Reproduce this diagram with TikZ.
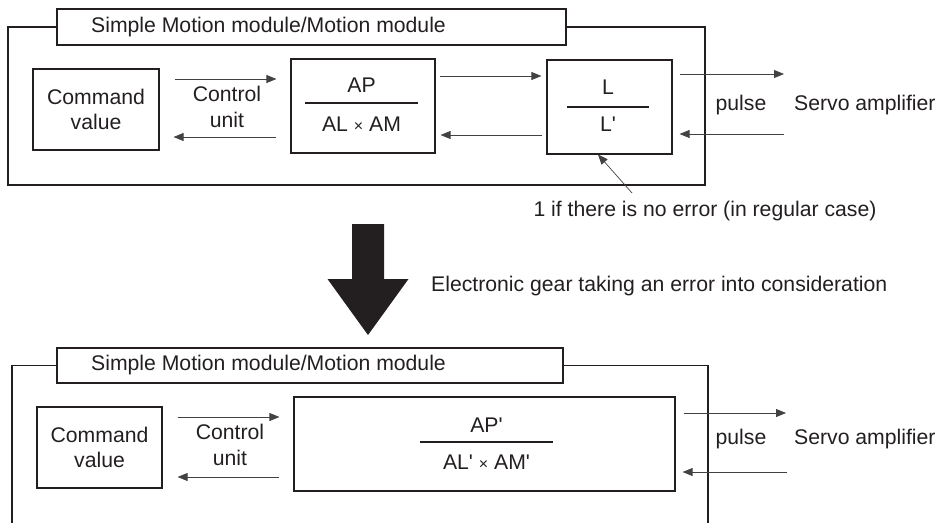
\documentclass[tikz,border=0pt]{standalone}
\usepackage{fontspec}
\newfontfamily\lsans{Liberation Sans}
\usetikzlibrary{arrows.meta,calc}
\definecolor{ink}{HTML}{231F20}
\newcommand{\smtimes}{{\fontsize{16}{16}\selectfont ×}}
\begin{document}
\begin{tikzpicture}[x=1pt,y=-1pt,
  every node/.style={text=ink,font=\lsans\fontsize{21.2}{25.5}\selectfont},
  frame/.style={draw=ink,line width=1.2pt},
  boxnode/.style={draw=ink,line width=1.2pt,inner sep=0pt},
  lbl/.style={align=center,inner sep=0pt},
  arr/.style={draw=ink!85,line width=0.8pt,-{Triangle[length=10pt,width=8pt]}},
  frac/.style={draw=ink,line width=1.6pt}]
\useasboundingbox (0,0) rectangle (939,522);

% ---------------- top section ----------------
\node[boxnode,minimum width=509pt,minimum height=36pt] (t1) at (311.5,27) {};
\node[lbl] (t1txt) at (268.5,27) {Simple Motion module/Motion module};
\draw[frame] (t1.west) -- (8,27) -- (8,185) -- (705,185) -- (705,27) -- (t1.east);

\node[boxnode,minimum width=126pt,minimum height=81pt,align=center] (cmd1) at (96,109.5) {Command\\value};
\node[lbl] (cu1) at (227,107) {Control\\unit};
\node[boxnode,minimum width=144pt,minimum height=94pt] (ap1) at (363,106) {};
\node[lbl] (ap1n) at (361.5,85) {AP};
\node[lbl] (ap1d) at (361.5,124) {AL \smtimes{} AM};
\draw[frac] (305,103) -- (418,103);
\node[boxnode,minimum width=125pt,minimum height=94pt] (l1) at (609.5,107) {};
\node[lbl] (l1n) at (608,87) {L};
\node[lbl] (l1d) at (608,124) {L'};
\draw[frac] (567,107) -- (649,107);

\node[lbl] (p1) at (741,105) {pulse};
\node[lbl,anchor=west] (sv1) at (794,105) {Servo amplifier};

\coordinate (y1a) at (0,79);
\coordinate (y1b) at (0,137);
\draw[arr,shorten <=15pt,shorten >=14pt] (cmd1.east |- y1a) -- (ap1.west |- y1a);
\draw[arr,shorten <=14pt,shorten >=14pt] (ap1.west |- y1b) -- (cmd1.east |- y1b);
\coordinate (y1c) at (0,76);
\coordinate (y1d) at (0,135);
\draw[arr,shorten <=4pt,shorten >=5pt] (ap1.east |- y1c) -- (l1.west |- y1c);
\draw[arr,shorten <=4pt,shorten >=5pt] (l1.west |- y1d) -- (ap1.east |- y1d);
\coordinate (o1a) at (784,74);
\coordinate (o1b) at (784,134);
\draw[arr,shorten <=7pt] (l1.east |- o1a) -- (o1a);
\draw[arr,shorten >=7pt] (o1b) -- (l1.east |- o1b);

\node[lbl] (note) at (705,211) {1 if there is no error (in regular case)};
\coordinate (noteStart) at (632,193);
\coordinate (noteEnd) at (598,154.5);
\draw[arr,line width=0.7pt] (noteStart) -- (noteEnd);

% ---------------- big arrow ----------------
\fill[ink] (352,224) -- (384,224) -- (384,279) -- (408.5,279) -- (368,335)
  -- (327.5,279) -- (352,279) -- cycle;
\node[lbl,anchor=west] (eg) at (431,286) {Electronic gear taking an error into consideration};

% ---------------- bottom section ----------------
\node[boxnode,minimum width=506pt,minimum height=35pt] (t2) at (310,365.5) {};
\node[lbl] (t2txt) at (268.5,365.5) {Simple Motion module/Motion module};
\draw[frame] (t2.west) -- (12,365.5) -- (12,523);
\draw[frame] (t2.east) -- (708,365.5) -- (708,523);

\node[boxnode,minimum width=125pt,minimum height=81pt,align=center] (cmd2) at (99.5,447.5) {Command\\value};
\node[lbl] (cu2) at (230,445) {Control\\unit};
\node[boxnode,minimum width=381pt,minimum height=94pt] (ap2) at (484.5,444) {};
\node[lbl] (ap2n) at (486.5,425) {AP'};
\node[lbl] (ap2d) at (486.5,462) {AL' \smtimes{} AM'};
\draw[frac] (420,442) -- (553,442);

\node[lbl] (p2) at (741,439) {pulse};
\node[lbl,anchor=west] (sv2) at (794,439) {Servo amplifier};

\coordinate (y2a) at (0,417);
\coordinate (y2b) at (0,477);
\draw[arr,shorten <=15pt,shorten >=14pt] (cmd2.east |- y2a) -- (ap2.west |- y2a);
\draw[arr,shorten <=14pt,shorten >=15pt] (ap2.west |- y2b) -- (cmd2.east |- y2b);
\coordinate (o2a) at (786,413);
\coordinate (o2b) at (787,472);
\draw[arr,shorten <=8pt] (ap2.east |- o2a) -- (o2a);
\draw[arr,shorten >=7pt] (o2b) -- (ap2.east |- o2b);
\end{tikzpicture}
\end{document}
